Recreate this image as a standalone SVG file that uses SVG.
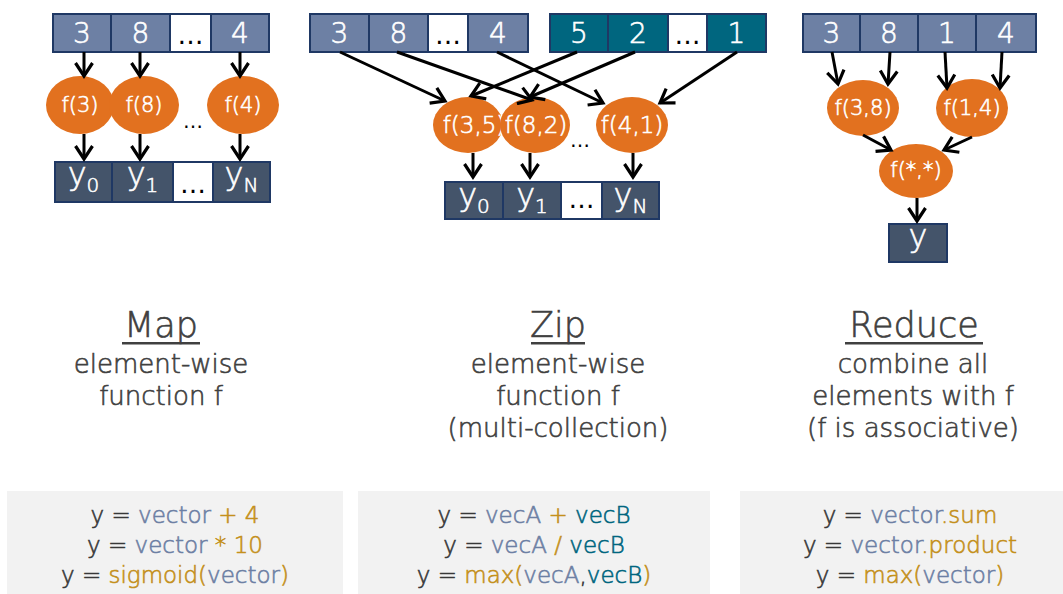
<svg xmlns="http://www.w3.org/2000/svg" width="1063" height="594" viewBox="0 0 1063 594">
  <defs>
    <marker id="arrow" viewBox="0 0 18 20" refX="15" refY="10" markerWidth="18" markerHeight="20" markerUnits="userSpaceOnUse" orient="auto">
      <path d="M2,1.5 L15,10 L2,18.5" fill="none" stroke="#000" stroke-width="3.2" stroke-linejoin="miter"/>
    </marker>
  </defs>
  <style>
    text { font-family: "DejaVu Sans", "Liberation Sans", sans-serif; font-weight: 300; stroke-width: 0.6; }
    .cell { stroke: #1f3864; stroke-width: 2; }
    .slate { fill: #6d80a4; }
    .teal { fill: #00667f; }
    .dark { fill: #44546a; }
    .blank { fill: #ffffff; }
    .num { fill: #ffffff; stroke: #ffffff; font-size: 28px; text-anchor: middle; }
    .dots { fill: #000000; font-size: 26px; font-weight: normal; text-anchor: middle; }
    .gap { fill: #000000; font-size: 20px; font-weight: normal; text-anchor: middle; }
    .out { fill: #ffffff; stroke: #ffffff; font-size: 32px; text-anchor: middle; }
    .fn { fill: #e2711f; }
    .fnt { fill: #ffffff; stroke: #ffffff; font-size: 21px; text-anchor: middle; }
    .fnz { font-size: 23px; }
    .title { fill: #404040; stroke: #404040; font-size: 35px; text-anchor: middle; }
    .desc { fill: #404040; stroke: #404040; font-size: 26px; text-anchor: middle; }
    .panel { fill: #f2f2f2; }
    .code { font-size: 23px; text-anchor: middle; fill: #383838; stroke: #383838; }
    .cv { fill: #6d80a4; stroke: #6d80a4; }
    .cg { fill: #c4901c; stroke: #c4901c; }
    .ct { fill: #00667f; stroke: #00667f; }
    .conn line { stroke: #000; stroke-width: 3; marker-end: url(#arrow); }
  </style>

  <rect width="1063" height="594" fill="#ffffff"/>

  <!-- ===== Map ===== -->
  <g id="map-input">
    <rect class="cell slate" x="53" y="14" width="58" height="38"/>
    <rect class="cell slate" x="111" y="14" width="59" height="38"/>
    <rect class="cell blank" x="170" y="14" width="41" height="38"/>
    <rect class="cell slate" x="211" y="14" width="58" height="38"/>
    <text class="num" x="82" y="43">3</text>
    <text class="num" x="140.5" y="43">8</text>
    <text class="dots" x="190.5" y="44">…</text>
    <text class="num" x="240" y="43">4</text>
  </g>
  <g id="map-f3">
    <ellipse class="fn" cx="80" cy="105" rx="34" ry="29"/>
    <text class="fnt" x="80" y="112">f(3)</text>
  </g>
  <g id="map-f8">
    <ellipse class="fn" cx="144" cy="105" rx="35" ry="29"/>
    <text class="fnt" x="144" y="112">f(8)</text>
  </g>
  <text class="gap" x="193" y="128">…</text>
  <g id="map-f4">
    <ellipse class="fn" cx="243" cy="105" rx="36" ry="29"/>
    <text class="fnt" x="243" y="112">f(4)</text>
  </g>
  <g id="map-output">
    <rect class="cell dark" x="55" y="162" width="57" height="40"/>
    <rect class="cell dark" x="112" y="162" width="61" height="40"/>
    <rect class="cell blank" x="173" y="162" width="40" height="40"/>
    <rect class="cell dark" x="213" y="162" width="57" height="40"/>
    <text class="out" x="83.5" y="185">y<tspan font-size="20" dy="7">0</tspan></text>
    <text class="out" x="142.5" y="185">y<tspan font-size="20" dy="7">1</tspan></text>
    <text class="dots" x="193" y="193">…</text>
    <text class="out" x="241.5" y="185">y<tspan font-size="20" dy="7">N</tspan></text>
  </g>

  <!-- ===== Zip ===== -->
  <g id="zip-input-a">
    <rect class="cell slate" x="310" y="14" width="59" height="38"/>
    <rect class="cell slate" x="369" y="14" width="59" height="38"/>
    <rect class="cell blank" x="428" y="14" width="40" height="38"/>
    <rect class="cell slate" x="468" y="14" width="60" height="38"/>
    <text class="num" x="339.5" y="43">3</text>
    <text class="num" x="398.5" y="43">8</text>
    <text class="dots" x="448" y="44">…</text>
    <text class="num" x="498" y="43">4</text>
  </g>
  <g id="zip-input-b">
    <rect class="cell teal" x="550" y="14" width="58" height="38"/>
    <rect class="cell teal" x="608" y="14" width="60" height="38"/>
    <rect class="cell blank" x="668" y="14" width="39" height="38"/>
    <rect class="cell teal" x="707" y="14" width="59" height="38"/>
    <text class="num" x="579" y="43">5</text>
    <text class="num" x="638" y="43">2</text>
    <text class="dots" x="687.5" y="44">…</text>
    <text class="num" x="736.5" y="43">1</text>
  </g>
  <g id="zip-f35">
    <ellipse class="fn" cx="468" cy="125" rx="35" ry="28"/>
    <text class="fnt fnz" x="474" y="133">f(3,5)</text>
  </g>
  <g id="zip-f82">
    <ellipse class="fn" cx="535" cy="125" rx="35" ry="28"/>
    <text class="fnt fnz" x="536" y="133">f(8,2)</text>
  </g>
  <text class="gap" x="580" y="147">…</text>
  <g id="zip-f41">
    <ellipse class="fn" cx="632" cy="125" rx="36" ry="28"/>
    <text class="fnt fnz" x="632" y="133">f(4,1)</text>
  </g>
  <g id="zip-output">
    <rect class="cell dark" x="445" y="182" width="58" height="37"/>
    <rect class="cell dark" x="503" y="182" width="58" height="37"/>
    <rect class="cell blank" x="561" y="182" width="41" height="37"/>
    <rect class="cell dark" x="602" y="182" width="57" height="37"/>
    <text class="out" x="474" y="206">y<tspan font-size="20" dy="7">0</tspan></text>
    <text class="out" x="532" y="206">y<tspan font-size="20" dy="7">1</tspan></text>
    <text class="dots" x="581.5" y="208">…</text>
    <text class="out" x="630.5" y="206">y<tspan font-size="20" dy="7">N</tspan></text>
  </g>

  <!-- ===== Reduce ===== -->
  <g id="reduce-input">
    <rect class="cell slate" x="803" y="14" width="57" height="38"/>
    <rect class="cell slate" x="860" y="14" width="58" height="38"/>
    <rect class="cell slate" x="918" y="14" width="58" height="38"/>
    <rect class="cell slate" x="976" y="14" width="60" height="38"/>
    <text class="num" x="831.5" y="43">3</text>
    <text class="num" x="889" y="43">8</text>
    <text class="num" x="947" y="43">1</text>
    <text class="num" x="1006" y="43">4</text>
  </g>
  <g id="reduce-f38">
    <ellipse class="fn" cx="863" cy="108" rx="36" ry="28"/>
    <text class="fnt" x="863" y="115">f(3,8)</text>
  </g>
  <g id="reduce-f14">
    <ellipse class="fn" cx="972" cy="108" rx="36" ry="29"/>
    <text class="fnt" x="972" y="115">f(1,4)</text>
  </g>
  <g id="reduce-fall">
    <ellipse class="fn" cx="916" cy="171" rx="37" ry="27"/>
    <text class="fnt" x="916" y="177">f(*,*)</text>
  </g>
  <g id="reduce-output">
    <rect class="cell dark" x="889" y="224" width="58" height="38"/>
    <text class="out" x="918" y="247">y</text>
  </g>

  <!-- ===== Connectors ===== -->
  <g id="connectors" class="conn">
    <line x1="84" y1="52" x2="84" y2="76"/>
    <line x1="140" y1="52" x2="140" y2="76"/>
    <line x1="240" y1="52" x2="240" y2="76"/>
    <line x1="84" y1="134" x2="84" y2="159"/>
    <line x1="140" y1="134" x2="140" y2="159"/>
    <line x1="240" y1="134" x2="240" y2="159"/>

    <line x1="340" y1="52" x2="445" y2="101"/>
    <line x1="397" y1="52" x2="532" y2="100"/>
    <line x1="497" y1="52" x2="603" y2="103"/>
    <line x1="577" y1="52" x2="471" y2="96"/>
    <line x1="635" y1="52" x2="530" y2="97"/>
    <line x1="737" y1="52" x2="660" y2="103"/>
    <line x1="473" y1="153" x2="473" y2="177"/>
    <line x1="530" y1="153" x2="530" y2="177"/>
    <line x1="633" y1="153" x2="633" y2="177"/>

    <line x1="832" y1="52" x2="838" y2="84"/>
    <line x1="890" y1="52" x2="888" y2="84"/>
    <line x1="945" y1="52" x2="947" y2="88"/>
    <line x1="1002" y1="52" x2="1000" y2="88"/>
    <line x1="863" y1="135" x2="891" y2="150"/>
    <line x1="972" y1="137" x2="944" y2="150"/>
    <line x1="917" y1="198" x2="917" y2="221"/>
  </g>

  <!-- ===== Captions ===== -->
  <g id="map-caption">
    <text class="title" x="161" y="337">Map</text>
    <rect x="122" y="342" width="78" height="2.5" fill="#404040"/>
    <text class="desc" x="161" y="373">element-wise</text>
    <text class="desc" x="161" y="405">function f</text>
  </g>
  <g id="zip-caption">
    <text class="title" x="558" y="337">Zip</text>
    <rect x="531" y="342" width="54" height="2.5" fill="#404040"/>
    <text class="desc" x="558" y="373">element-wise</text>
    <text class="desc" x="558" y="405">function f</text>
    <text class="desc" x="558" y="437">(multi-collection)</text>
  </g>
  <g id="reduce-caption">
    <text class="title" x="914" y="337">Reduce</text>
    <rect x="845" y="342" width="138" height="2.5" fill="#404040"/>
    <text class="desc" x="913" y="373">combine all</text>
    <text class="desc" x="913" y="405">elements with f</text>
    <text class="desc" x="913" y="437">(f is associative)</text>
  </g>

  <!-- ===== Code panels ===== -->
  <g id="map-code">
    <rect class="panel" x="7" y="491" width="336" height="103"/>
    <text class="code" x="175" y="523">y = <tspan class="cv">vector</tspan><tspan class="cg"> + 4</tspan></text>
    <text class="code" x="175" y="553">y = <tspan class="cv">vector</tspan><tspan class="cg"> * 10</tspan></text>
    <text class="code" x="175" y="583">y = <tspan class="cg">sigmoid(</tspan><tspan class="cv">vector</tspan><tspan class="cg">)</tspan></text>
  </g>
  <g id="zip-code">
    <rect class="panel" x="358" y="491" width="352" height="103"/>
    <text class="code" x="534" y="523">y = <tspan class="cv">vecA</tspan><tspan class="cg"> + </tspan><tspan class="ct">vecB</tspan></text>
    <text class="code" x="534" y="553">y = <tspan class="cv">vecA</tspan><tspan class="cg"> / </tspan><tspan class="ct">vecB</tspan></text>
    <text class="code" x="534" y="583">y = <tspan class="cg">max(</tspan><tspan class="cv">vecA</tspan>,<tspan class="ct">vecB</tspan><tspan class="cg">)</tspan></text>
  </g>
  <g id="reduce-code">
    <rect class="panel" x="740" y="491" width="323" height="103"/>
    <text class="code" x="910" y="523">y = <tspan class="cv">vector</tspan><tspan class="cg">.sum</tspan></text>
    <text class="code" x="910" y="553">y = <tspan class="cv">vector</tspan><tspan class="cg">.product</tspan></text>
    <text class="code" x="910" y="583">y = <tspan class="cg">max(</tspan><tspan class="cv">vector</tspan><tspan class="cg">)</tspan></text>
  </g>
</svg>
